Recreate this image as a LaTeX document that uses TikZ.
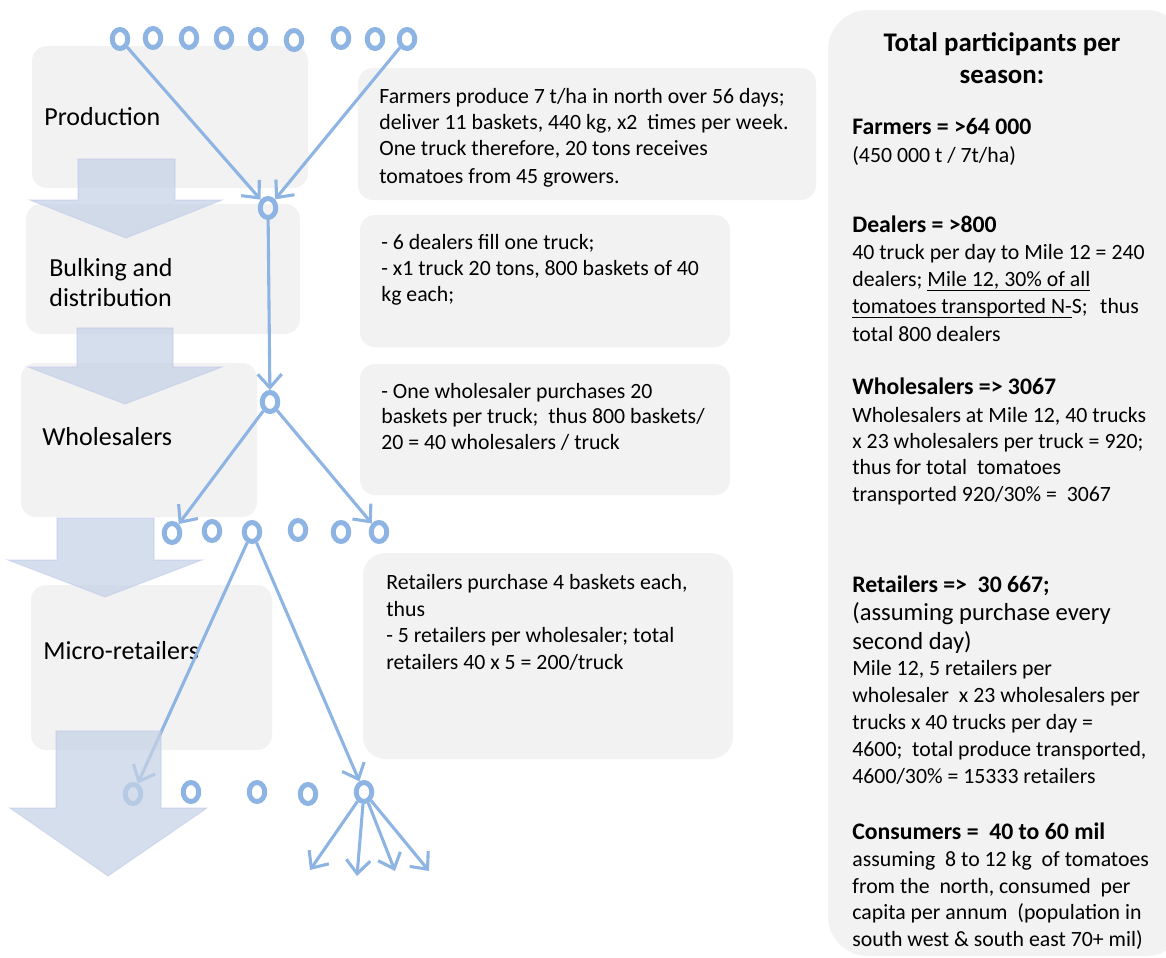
\documentclass[tikz,border=0pt]{standalone}
\usepackage{fontspec}
\setmainfont{Carlito}
\usetikzlibrary{arrows.meta,shapes.geometric}
\definecolor{boxgray}{RGB}{242,242,242}
\definecolor{flowblue}{RGB}{141,180,226}
\definecolor{bigarrow}{RGB}{198,210,230}
\newcommand\myul[1]{\setbox0\hbox{#1}\rlap{\rule[-2.3pt]{\wd0}{0.65pt}}\box0}
\begin{document}
\begin{tikzpicture}[x=0.02cm,y=-0.02cm,
  panel/.style={fill=boxgray, rounded corners=0.3cm},
  bigarr/.style={fill=bigarrow, fill opacity=0.74, draw=bigarrow!92!blue, draw opacity=0.4, line width=0.6pt},
  ring/.style={ellipse, draw=flowblue, line width=0.1cm, minimum width=0.31cm, minimum height=0.38cm, inner sep=0pt},
  flow/.style={draw=flowblue, line width=0.062cm, -{Straight Barb[length=0.27cm,width=0.48cm]}},
  body/.style={anchor=west, inner sep=0pt, font=\fontsize{12.4}{14}\selectfont, text height=10.4pt, text depth=2.5pt},
  bigtxt/.style={anchor=west, inner sep=0pt, font=\fontsize{14.8}{17}\selectfont, text height=12.4pt, text depth=3pt},
  midtxt/.style={anchor=west, inner sep=0pt, font=\fontsize{14}{16}\selectfont, text height=11.8pt, text depth=2.8pt},
  head/.style={anchor=west, inner sep=0pt, font=\fontsize{13.5}{16}\selectfont\bfseries, text height=11.3pt, text depth=2.7pt},
  title/.style={anchor=center, inner sep=0pt, font=\fontsize{15.3}{18}\selectfont\bfseries, text height=12.8pt, text depth=3.1pt}
]
\path[use as bounding box, clip] (0,0) rectangle (1166,957);

% stage boxes
\path[panel] (32,46) rectangle (308,188);
\path[panel] (26,204) rectangle (300,334);
\path[panel] (21,363) rectangle (257,517);
\path[panel] (31,585) rectangle (272,750);

% info boxes
\path[panel] (358,68) rectangle (816,200);
\path[panel] (360,215) rectangle (730,347);
\path[panel] (360,364) rectangle (730,495);
\path[panel, rounded corners=0.45cm] (363,553) rectangle (733,759);
\path[panel, rounded corners=0.8cm] (828,10) rectangle (1186,956);

% stage labels
\node[bigtxt] (sProd) at (44,117) {Production};
\node[bigtxt] (sBulk1) at (49,268) {Bulking and};
\node[bigtxt] (sBulk2) at (49,298) {distribution};
\node[bigtxt] (sWhole) at (42,437) {Wholesalers};
\node[bigtxt] (sMicro) at (43,651) {Micro-retailers};

% info texts
\node[body] (a1) at (379,97) {Farmers produce 7 t/ha in north over 56 days;};
\node[body] (a2) at (379,123) {deliver 11 baskets, 440 kg, x2\ \ times per week.};
\node[body] (a3) at (379,149) {One truck therefore, 20 tons receives};
\node[body] (a4) at (379,177) {tomatoes from 45 growers.};

\node[body] (b1) at (381,243) {- 6 dealers fill one truck;};
\node[body] (b2) at (381,269) {- x1 truck 20 tons, 800 baskets of 40};
\node[body] (b3) at (381,295) {kg each;};

\node[body] (c1) at (381,392) {- One wholesaler purchases 20};
\node[body] (c2) at (381,417) {baskets per truck;\ \ thus 800 baskets/};
\node[body] (c3) at (381,443) {20 = 40 wholesalers / truck};

\node[body] (d1) at (386,583) {Retailers purchase 4 baskets each,};
\node[body] (d2) at (386,610) {thus};
\node[body] (d3) at (386,636) {- 5 retailers per wholesaler; total};
\node[body] (d4) at (386,663) {retailers 40 x 5 = 200/truck};

% right panel
\node[title] (tt1) at (1002,43) {Total participants per};
\node[title] (tt2) at (1002,75) {season:};

\node[head] (h1) at (852,127) {Farmers = >64 000};
\node[body] (h1a) at (852,156) {(450 000 t / 7t/ha)};

\node[head] (h2) at (852,225) {Dealers = >800};
\node[body] (h2a) at (852,253) {40 truck per day to Mile 12 = 240};
\node[body] (h2b) at (852,280) {dealers; \myul{Mile 12, 30\% of all}};
\node[body] (h2c) at (852,307) {\myul{tomatoes transported N-}S;\hspace{0.35em} thus};
\node[body] (h2d) at (852,335) {total 800 dealers};

\node[head] (h3) at (852,387) {Wholesalers => 3067};
\node[body] (h3a) at (852,416) {Wholesalers at Mile 12, 40 trucks};
\node[body] (h3b) at (852,442) {x 23 wholesalers per truck = 920;};
\node[body] (h3c) at (852,468) {thus for total\ \ tomatoes};
\node[body] (h3d) at (852,495) {transported 920/30\% =\ \ 3067};

\node[head] (h4) at (852,585) {Retailers =>\ \ 30 667;};
\node[midtxt] (h4a) at (852,613) {(assuming purchase every};
\node[midtxt] (h4b) at (852,642) {second day)};
\node[body] (h4c) at (852,669) {Mile 12, 5 retailers per};
\node[body] (h4d) at (852,696) {wholesaler\ \ x 23 wholesalers per};
\node[body] (h4e) at (852,723) {trucks x 40 trucks per day =};
\node[body] (h4f) at (852,750) {4600;\ \ total produce transported,};
\node[body] (h4g) at (852,777) {4600/30\% = 15333 retailers};

\node[head] (h5) at (852,832) {Consumers =\ \ 40 to 60 mil};
\node[body] (h5a) at (852,860) {assuming\ \ 8 to 12 kg\ \ of tomatoes};
\node[body] (h5b) at (852,887) {from the\ \ north, consumed\ \ per};
\node[body] (h5c) at (852,913) {capita per annum\ \ (population in};
\node[body] (h5d) at (852,940) {south west \& south east 70+ mil)};

% rings
\node[ring] (f1) at (120,39) {};
\node[ring] (f2) at (153,38) {};
\node[ring] (f3) at (189,38) {};
\node[ring] (f4) at (224,38) {};
\node[ring] (f5) at (258,39) {};
\node[ring] (f6) at (294,40) {};
\node[ring] (f7) at (341,38) {};
\node[ring] (f8) at (375,39) {};
\node[ring] (f9) at (407,39) {};
\node[ring] (n1) at (268,208) {};
\node[ring] (n2) at (270,402) {};
\node[ring] (w1) at (172,533) {};
\node[ring] (w2) at (212,531) {};
\node[ring] (w3) at (252,532) {};
\node[ring] (w4) at (298,530) {};
\node[ring] (w5) at (341,532) {};
\node[ring] (w6) at (379,532) {};
\node[ring] (r1) at (133,794) {};
\node[ring] (r2) at (191,792) {};
\node[ring] (r3) at (257,792) {};
\node[ring] (r4) at (308,794) {};
\node[ring] (r5) at (364,792) {};
\coordinate (e1) at (310,870);
\coordinate (e2) at (357,876);
\coordinate (e3) at (395,871);
\coordinate (e4) at (429,871);

% connectors
\draw[flow] (f1) -- (n1);
\draw[flow] (f9) -- (n1);
\draw[flow] (n1) -- (n2);
\draw[flow] (n2) -- (w1);
\draw[flow] (n2) -- (w6);
\draw[flow] (w3) -- (r1);
\draw[flow] (w3) -- (r5);
\draw[flow] (r5) -- (e1);
\draw[flow] (r5) -- (e2);
\draw[flow] (r5) -- (e3);
\draw[flow] (r5) -- (e4);

% big block arrows
\path[bigarr] (78,159) -- (175,159) -- (175,200) -- (222,200) -- (126,238) -- (30,200) -- (78,200) -- cycle;
\path[bigarr] (77,328) -- (173,328) -- (173,367) -- (222,367) -- (125,404) -- (28,367) -- (77,367) -- cycle;
\path[bigarr] (57,518) -- (154,518) -- (154,560) -- (202,560) -- (105,597) -- (8,560) -- (57,560) -- cycle;
\path[bigarr] (56,731) -- (161,731) -- (161,808) -- (207,808) -- (108,876) -- (10,808) -- (56,808) -- cycle;
\end{tikzpicture}
\end{document}
